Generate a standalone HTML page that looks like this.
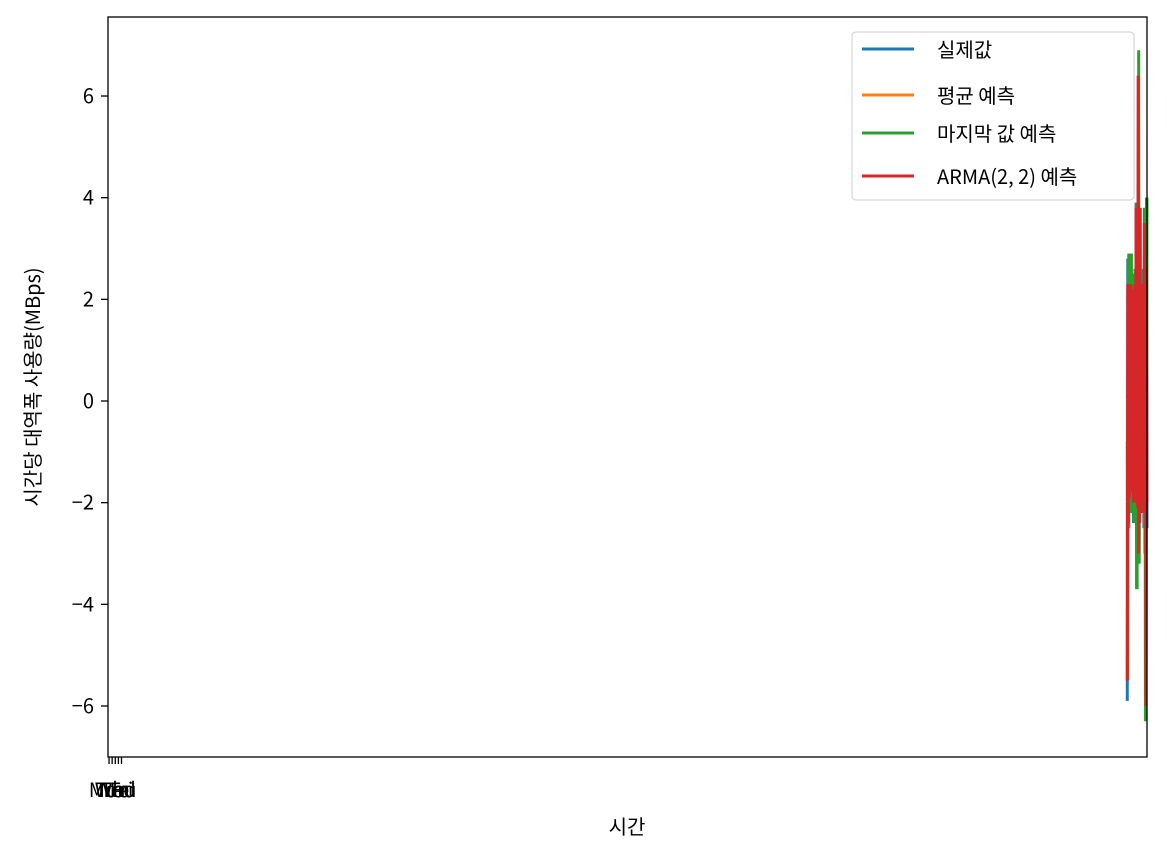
<!DOCTYPE html>
<html><head><meta charset="utf-8"><style>
body{margin:0;background:#fff;}
svg text{font-family:"Noto Sans CJK KR","Liberation Sans",sans-serif;}
</style></head><body>
<svg id="chart" width="1167" height="860" xmlns="http://www.w3.org/2000/svg">
<rect x="108" y="17" width="1039" height="740" fill="#fff" stroke="none"/>
<g id="marks"></g>
<g id="yaxis"></g>
<g id="xaxis"></g>
<rect x="108" y="17" width="1039" height="740" fill="none" stroke="#000" stroke-width="1.3"/>
<text x="627" y="834" font-size="20" text-anchor="middle">시간</text>
<text transform="translate(40,387) rotate(-90)" font-size="20" text-anchor="middle">시간당 대역폭 사용량(MBps)</text>
<g>
<rect x="852" y="32" width="282" height="168" rx="4" fill="#fff" fill-opacity="0.85" stroke="#ccc"/>
<g><line x1="862" y1="49" x2="914" y2="49" stroke="#1f77b4" stroke-width="3"/><text x="937" y="57" font-size="20">실제값</text></g>
<g><line x1="862" y1="95" x2="914" y2="95" stroke="#ff7f0e" stroke-width="3"/><text x="937" y="103" font-size="20">평균 예측</text></g>
<g><line x1="862" y1="133" x2="914" y2="133" stroke="#2ca02c" stroke-width="3"/><text x="937" y="141" font-size="20">마지막 값 예측</text></g>
<g><line x1="862" y1="176" x2="914" y2="176" stroke="#d62728" stroke-width="3"/><text x="937" y="184" font-size="20">ARMA(2, 2) 예측</text></g>
</g>
</svg>
<script>
const xIdx = [981,981.5,982,982.5,983,983.5,984,984.5,985,985.5,986,986.5,987,987.5,988,988.5,989,989.5,990,990.5,991,991.5,992,992.5,993,993.5,994,994.5,995,995.5,996,996.5,997,997.5,998,998.5,999,999.5,1000];
const actual = [-5.9,2.8,-2.5,2.9,-1.8,1.5,-2.2,2.9,-1.9,2.5,-1.5,2.2,-2.4,2.0,-1.8,2.6,-1.9,3.9,-3.7,2.5,-2.4,3.0,-3.2,1.5,-2.0,2.3,-1.6,2.0,-2.2,1.8,-1.5,2.6,-2.5,3.8,-3.0,2.8,-2.5,4.0,-2.5];
const meanPred = [0.1,0.0,0.1,0.0,0.1,0.0,0.1,0.0,0.1,0.0,0.1,0.0,0.1,0.0,0.1,0.0,0.1,0.0,0.1,0.0,0.1,0.0,0.1,0.0,0.1,0.0,0.1,0.0,0.1,0.0,0.1,0.0,0.1,0.0,0.1,0.0,0.1,0.0,0.1];
const lastPred = [-0.8,-5.5,2.8,-2.5,2.9,-1.8,1.5,-2.2,2.9,-1.9,2.5,-1.5,2.2,-2.4,2.0,-1.8,2.6,-1.9,3.9,-3.7,2.5,-2.4,6.9,-3.2,1.5,-2.0,2.3,-1.6,2.0,-2.2,1.8,-1.5,2.6,-2.5,3.8,-6.3,2.8,-2.5,4.0];
const armaPred = [-5.5,2.3,-2.4,2.3,-1.9,2.0,-1.6,2.3,-1.7,2.2,-1.8,2.1,-2.0,2.2,-1.7,2.3,-1.8,3.8,-2.0,2.4,-2.1,6.4,-3.0,2.2,-2.4,3.8,-2.2,2.0,-1.8,2.1,-1.9,2.3,-2.2,3.5,-2.0,2.6,-6.0,2.4,-2.0];
const yTicks = [-6,-4,-2,0,2,4,6];
const yTickLabels = ["\u22126","\u22124","\u22122","0","2","4","6"];
const xTicks = [1,4,7,10,13];
const xTickLabels = ["Mon","Tue","Wed","Thu","Fri"];

const X = i => 108 + i/1000*1039;
const Y = v => 401 - v*50.83;
const NS = "http://www.w3.org/2000/svg";
const marks = document.getElementById('marks');
function line(arr, color, name){
  const p = document.createElementNS(NS,'polyline');
  p.setAttribute('points', arr.map((v,i)=>X(xIdx[i])+','+Y(v)).join(' '));
  p.setAttribute('fill','none');p.setAttribute('stroke',color);p.setAttribute('stroke-width','3');
  
  
  marks.appendChild(p);
}
line(actual,'#1f77b4','series-actual');
line(meanPred,'#ff7f0e','series-mean');
line(lastPred,'#2ca02c','series-last-value');
line(armaPred,'#d62728','series-arma');
const ya = document.getElementById('yaxis');
yTicks.forEach((v,i)=>{
  const l=document.createElementNS(NS,'line');
  l.setAttribute('x1',101);l.setAttribute('x2',108);l.setAttribute('y1',Y(v));l.setAttribute('y2',Y(v));l.setAttribute('stroke','#000');l.setAttribute('stroke-width','1.3');
  
  
  ya.appendChild(l);
  const t=document.createElementNS(NS,'text');
  t.setAttribute('x',94);t.setAttribute('y',Y(v)+7);t.setAttribute('font-size','20');t.setAttribute('text-anchor','end');
  t.textContent=yTickLabels[i];
  
  
  ya.appendChild(t);
});
const xa = document.getElementById('xaxis');
xTicks.forEach((v,i)=>{
  const l=document.createElementNS(NS,'line');
  l.setAttribute('x1',X(v));l.setAttribute('x2',X(v));l.setAttribute('y1',757);l.setAttribute('y2',764);l.setAttribute('stroke','#000');l.setAttribute('stroke-width','1.3');
  
  
  xa.appendChild(l);
  const t=document.createElementNS(NS,'text');
  t.setAttribute('x',X(v));t.setAttribute('y',797);t.setAttribute('font-size','20');t.setAttribute('text-anchor','middle');
  t.textContent=xTickLabels[i];
  
  
  xa.appendChild(t);
});
</script>
</body></html>
